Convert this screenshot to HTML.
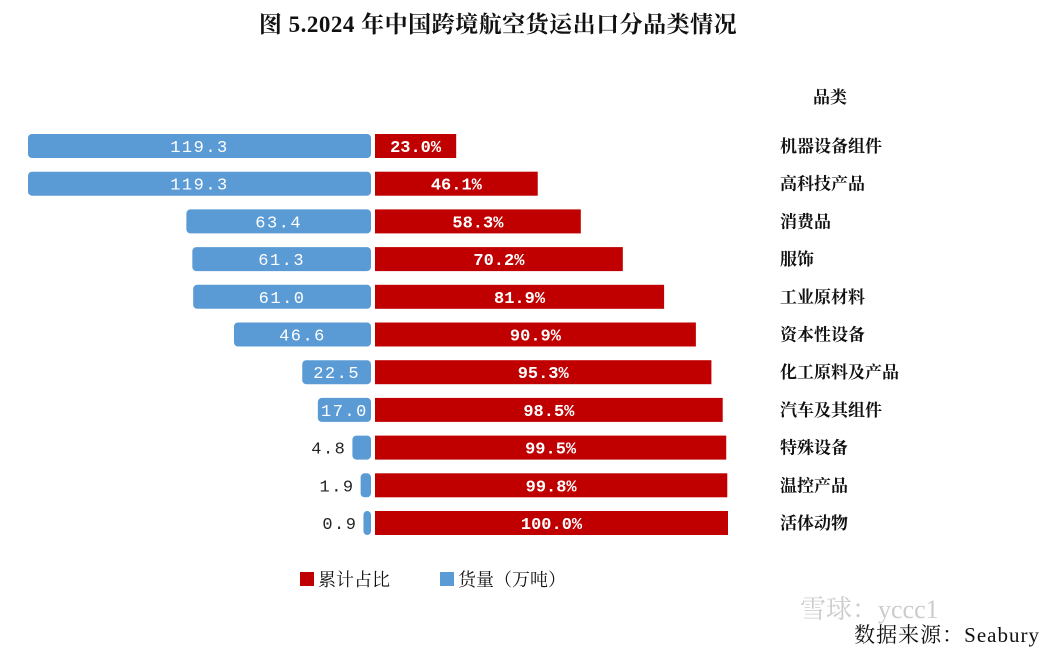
<!DOCTYPE html>
<html><head><meta charset="utf-8"><style>
body{margin:0;background:#fff;width:1049px;height:655px;overflow:hidden;font-family:"Liberation Serif","Noto Serif CJK SC",serif;}
#title{position:absolute;left:0;width:996px;top:6px;text-align:center;font-size:23px;font-weight:bold;color:#111;letter-spacing:0.5px;}
svg{position:absolute;left:0;top:0;}
</style></head><body>
<div id="title">图 5.2024 年中国跨境航空货运出口分品类情况</div>
<svg id="chart" width="1049" height="655"></svg>
<script>
const categories=["机器设备组件","高科技产品","消费品","服饰","工业原材料","资本性设备","化工原料及产品","汽车及其组件","特殊设备","温控产品","活体动物"];
const volumes=[119.3,119.3,63.4,61.3,61.0,46.6,22.5,17.0,4.8,1.9,0.9];
const cumulative=[23.0,46.1,58.3,70.2,81.9,90.9,95.3,98.5,99.5,99.8,100.0];
const NS="http://www.w3.org/2000/svg";
const svg=document.getElementById('chart');
const zeroL=371,zeroR=375,volScale=338/119.3,pctScale=353/100;
const yPos=i=>146+i*37.7;
const xVol=v=>zeroL-v*volScale-5;
const xPct=p=>zeroR+p*pctScale;
function mk(t,a){const e=document.createElementNS(NS,t);for(const k in a)e.setAttribute(k,a[k]);svg.appendChild(e);return e;}
const hdr=mk('text',{x:830,y:103,'font-size':17,'text-anchor':'middle',fill:'#111','font-weight':'bold'});hdr.textContent='品类';


categories.forEach((c,i)=>{
 const y=yPos(i);
 const x0=xVol(volumes[i]);
 const b=mk('rect',{x:x0,y:y-12,width:zeroL-x0,height:24,rx:4,fill:'#5b9bd5'});
 
 
 const w=zeroL-x0,big=w>50;
 const tv=mk('text',{x:big?(x0+zeroL)/2:x0-6,y:y+6,'font-size':17,'text-anchor':big?'middle':'end',fill:big?'#fff':'#222','letter-spacing':'1.5','font-family':'Liberation Mono, monospace'});
 tv.textContent=volumes[i].toFixed(1);
 
 
 const r=mk('rect',{x:zeroR,y:y-12,width:xPct(cumulative[i])-zeroR,height:24,fill:'#c00000'});
 
 
 const tp=mk('text',{x:(zeroR+xPct(cumulative[i]))/2,y:y+6,'font-size':17,'text-anchor':'middle',fill:'#fff','font-weight':'bold','font-family':'Liberation Mono, monospace'});
 tp.textContent=cumulative[i].toFixed(1)+'%';
 
 
 const tc=mk('text',{x:780,y:y+6,'font-size':17,fill:'#111','font-weight':'bold'});
 tc.textContent=c;
 
 
});
const l1=mk('rect',{x:300,y:572,width:14,height:14,fill:'#c00000'});


const lt1=mk('text',{x:318,y:586,'font-size':18,fill:'#111'});lt1.textContent='累计占比';


const l2=mk('rect',{x:440,y:572,width:14,height:14,fill:'#5b9bd5'});


const lt2=mk('text',{x:458,y:586,'font-size':18,fill:'#111'});lt2.textContent='货量（万吨）';


const wm=mk('text',{x:800,y:618,'font-size':26,fill:'#ccc'});wm.textContent='雪球：yccc1';


const src=mk('text',{x:1040,y:642,'font-size':21,fill:'#111','text-anchor':'end','letter-spacing':'1'});src.textContent='数据来源：Seabury';


</script>
</body></html>
